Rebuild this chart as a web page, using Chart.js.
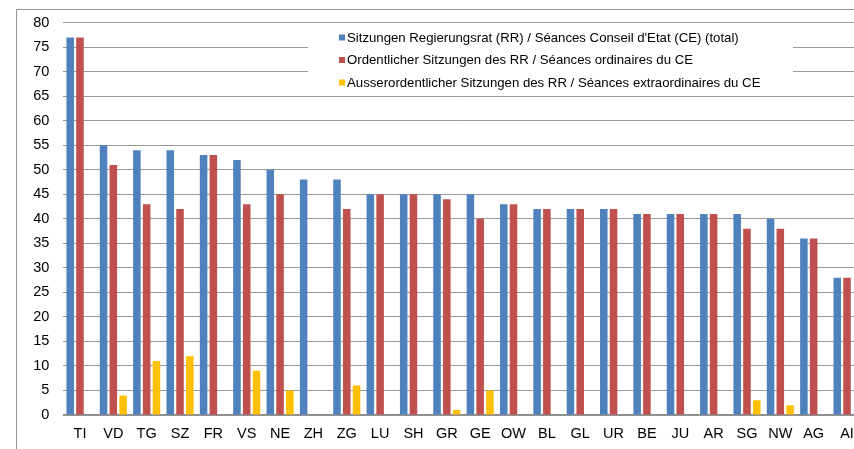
<!DOCTYPE html>
<html>
<head>
<meta charset="utf-8">
<script src="https://cdn.jsdelivr.net/npm/chart.js@4"></script>
<style>
  html, body { margin: 0; padding: 0; background: #fff; overflow: hidden; }
  #wrap { position: absolute; left: 0; top: 0; width: 880px; height: 460px; }
  #frame { position: absolute; left: 16px; top: 9px; width: 900px; height: 500px;
           border: 1px solid #959595; box-sizing: border-box; pointer-events: none; }
</style>
</head>
<body>
<div id="wrap"><canvas id="c" width="880" height="460"></canvas></div>
<div id="frame"></div>
<script>
// ---- Data ----
const categories = ['TI','VD','TG','SZ','FR','VS','NE','ZH','ZG','LU','SH','GR','GE','OW','BL','GL','UR','BE','JU','AR','SG','NW','AG','AI'];
const seriesLabels = [
  'Sitzungen Regierungsrat (RR) / Séances Conseil d\'Etat (CE) (total)',
  'Ordentlicher Sitzungen des RR / Séances ordinaires du CE',
  'Ausserordentlicher Sitzungen des RR / Séances extraordinaires du CE'
];
const totalSessions    = [77,55,54,54,53,52,50,48,48,45,45,45,45,43,42,42,42,41,41,41,41,40,36,28];
const ordinarySessions = [77,51,43,42,53,43,45,null,42,45,45,44,40,43,42,42,42,41,41,41,38,38,36,28];
const extraSessions    = [null,4,11,12,null,9,5,null,6,null,null,1,5,null,null,null,null,null,null,null,3,2,null,null];
const yTickValues = [0,5,10,15,20,25,30,35,40,45,50,55,60,65,70,75,80];

const seriesColors = ['#4F81BD', '#C0504D', '#FFC000'];
const FONT = '"Liberation Sans", Arial, sans-serif';

const boxLegend = {
  id: 'boxLegend',
  afterDraw(chart) {
    const ctx = chart.ctx;
    ctx.save();
    ctx.fillStyle = '#fff';
    ctx.fillRect(308, 25, 485, 69);
    ctx.font = '13.2px ' + FONT;
    ctx.textBaseline = 'middle';
    ctx.textAlign = 'left';
    chart.data.datasets.forEach((ds, i) => {
      const y = 37.5 + i * 22.5;
      ctx.fillStyle = ds.backgroundColor;
      ctx.fillRect(339, y - 3, 6, 6);
      ctx.fillStyle = '#000';
      ctx.fillText(ds.label, 347, y + 0.5);
    });
    ctx.restore();
  }
};

new Chart(document.getElementById('c'), {
  type: 'bar',
  data: {
    labels: categories,
    datasets: [
      { label: seriesLabels[0], data: totalSessions, backgroundColor: seriesColors[0] },
      { label: seriesLabels[1], data: ordinarySessions, backgroundColor: seriesColors[1] },
      { label: seriesLabels[2], data: extraSessions, backgroundColor: seriesColors[2] }
    ]
  },
  options: {
    responsive: false,
    animation: false,
    devicePixelRatio: 1,
    layout: { padding: { left: 0, right: 16.3, top: 22.5, bottom: 15 } },
    datasets: { bar: { categoryPercentage: 0.88, barPercentage: 0.77, borderWidth: 0 } },
    plugins: { legend: { display: false }, tooltip: { enabled: false } },
    scales: {
      x: {
        grid: { display: false, drawTicks: false },
        border: { display: true, color: '#8c8c8c', width: 1.5 },
        ticks: { color: '#000', font: { family: FONT, size: 14.5 }, padding: 10, maxRotation: 0, autoSkip: false },
        afterFit(s) { s.height = 30; }
      },
      y: {
        min: 0, max: 80,
        afterBuildTicks(s) { s.ticks = yTickValues.map(v => ({ value: v })); },
        grid: { color: '#999', lineWidth: 1, drawTicks: false },
        border: { display: false },
        ticks: { color: '#000', font: { family: FONT, size: 14.5 }, padding: 14 },
        afterFit(s) { s.width = 63.3; }
      }
    }
  },
  plugins: [boxLegend]
});
</script>
</body>
</html>
